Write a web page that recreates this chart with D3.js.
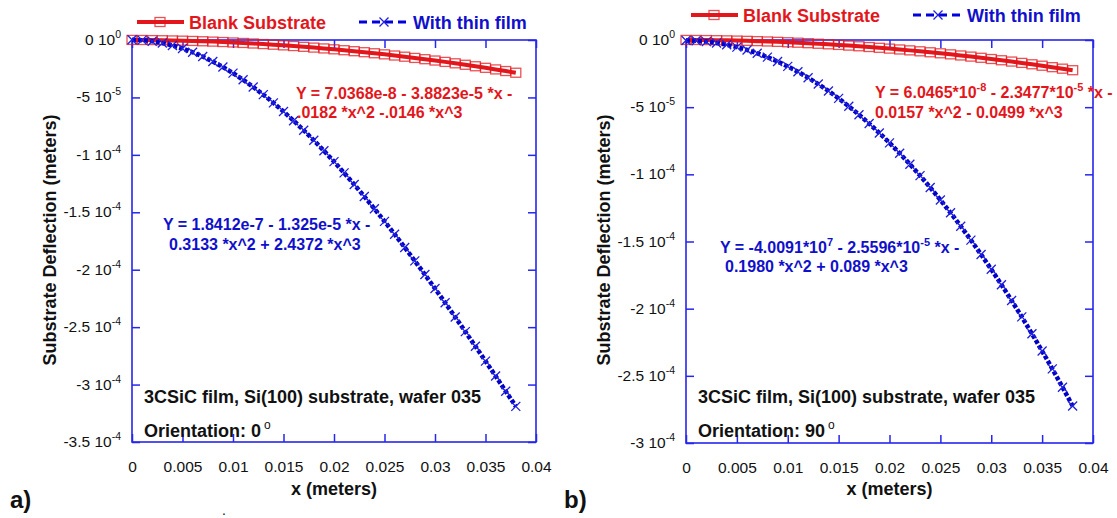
<!DOCTYPE html>
<meta charset="utf-8">
<head>
<title>Substrate deflection</title>
<style>
  body { margin: 0; background: #fff; }
  text { font-family: Arial, "Liberation Sans", sans-serif; }
</style>
</head>
<body>
<svg width="1117" height="518"></svg>
<script src="https://d3js.org/d3.v7.min.js"></script>
<script>
// x positions of the measured points (meters)
var xPos = [0, 0.001, 0.002, 0.003, 0.004, 0.005, 0.006, 0.007, 0.008, 0.009,
  0.010, 0.011, 0.012, 0.013, 0.014, 0.015, 0.016, 0.017, 0.018, 0.019,
  0.020, 0.021, 0.022, 0.023, 0.024, 0.025, 0.026, 0.027, 0.028, 0.029,
  0.030, 0.031, 0.032, 0.033, 0.034, 0.035, 0.036, 0.037, 0.038];

// deflections in micrometres
// panel a) orientation 0 deg
var blankA = [0.07, 0.01, -0.08, -0.21, -0.38, -0.58, -0.82, -1.10, -1.41, -1.76,
  -2.15, -2.58, -3.04, -3.54, -4.08, -4.66, -5.27, -5.92, -6.61, -7.34,
  -8.10, -8.91, -9.75, -10.63, -11.55, -12.50, -13.50, -14.53, -15.61, -16.72,
  -17.87, -19.06, -20.29, -21.56, -22.86, -24.21, -25.60, -27.02, -28.49];
var filmA = [0.18, -0.14, -1.08, -2.61, -4.73, -7.41, -10.65, -14.42, -18.73, -23.54,
  -28.84, -34.63, -40.88, -47.58, -54.72, -62.28, -70.25, -78.61, -87.35, -96.45,
  -105.9, -115.7, -125.8, -136.2, -146.9, -157.9, -169.1, -180.6, -192.3, -204.2,
  -216.4, -228.7, -241.2, -253.9, -266.7, -279.6, -292.6, -305.8, -319.0];
// panel b) orientation 90 deg
var blankB = [0.06, 0.02, -0.05, -0.15, -0.27, -0.43, -0.62, -0.84, -1.09, -1.37,
  -1.68, -2.01, -2.38, -2.78, -3.21, -3.67, -4.16, -4.67, -5.22, -5.80,
  -6.41, -7.05, -7.72, -8.42, -9.14, -9.90, -10.69, -11.51, -12.36, -13.24,
  -14.15, -15.08, -16.05, -17.05, -18.08, -19.14, -20.23, -21.34, -22.49];
var filmB = [-0.40, -0.61, -1.20, -2.18, -3.54, -5.28, -7.40, -9.89, -12.77, -16.02,
  -19.65, -23.66, -28.05, -32.81, -37.94, -43.45, -49.33, -55.59, -62.22, -69.23,
  -76.60, -84.35, -92.47, -100.96, -109.82, -119.05, -128.64, -138.61, -148.95, -159.65,
  -170.72, -182.15, -193.96, -206.12, -218.66, -231.55, -244.81, -258.44, -272.43];

var xTicks = [0, 0.005, 0.01, 0.015, 0.02, 0.025, 0.03, 0.035, 0.04];
var xTickLabels = ["0", "0.005", "0.01", "0.015", "0.02", "0.025", "0.03", "0.035", "0.04"];

var yTicksA = [0, -5e-5, -1e-4, -1.5e-4, -2e-4, -2.5e-4, -3e-4, -3.5e-4];
var yMantA = ["0", "-5", "-1", "-1.5", "-2", "-2.5", "-3", "-3.5"];
var yExpA = ["0", "-5", "-4", "-4", "-4", "-4", "-4", "-4"];
var yTicksB = [0, -5e-5, -1e-4, -1.5e-4, -2e-4, -2.5e-4, -3e-4];
var yMantB = ["0", "-5", "-1", "-1.5", "-2", "-2.5", "-3"];
var yExpB = ["0", "-5", "-4", "-4", "-4", "-4", "-4"];

var RED = "#e3161b", BLUE = "#1010cc", FRAME = "#2626ee";

var svg = d3.select("svg");

// append text pieces, some as superscripts
function rich(t, parts, supSize) {
  var up = false;
  parts.forEach(function (p) {
    var s = t.append("tspan").text(p[0]);
    if (p[1]) { s.attr("font-size", supSize).attr("dy", -7); up = true; }
    else if (up) { s.attr("dy", 7); up = false; }
  });
  return t;
}

function squareMark(g, cx, cy) {
  g.append("rect").attr("x", cx - 5).attr("y", cy - 4.5).attr("width", 10).attr("height", 9)
    .attr("fill", "none").attr("stroke", RED).attr("stroke-opacity", 0.75).attr("stroke-width", 1.3);
}
function crossMark(g, cx, cy) {
  g.append("path").attr("d", "M" + (cx - 4.5) + "," + (cy - 4.5) + "L" + (cx + 4.5) + "," + (cy + 4.5)
      + "M" + (cx - 4.5) + "," + (cy + 4.5) + "L" + (cx + 4.5) + "," + (cy - 4.5))
    .attr("stroke", "#2020dd").attr("stroke-width", 1.3).attr("fill", "none");
}

function drawPanel(p) {
  var x = d3.scaleLinear().domain([0, 0.04]).range([p.left, p.right]);
  var y = d3.scaleLinear().domain([p.yMin, 0]).range([p.bottom, p.top]);
  var g = svg.append("g");

  var ax = g.append("g").attr("transform", "translate(0," + p.bottom + ")")
    .call(d3.axisBottom(x).tickValues(xTicks).tickFormat(function (d, i) { return xTickLabels[i]; })
      .tickSizeInner(-8).tickSizeOuter(0).tickPadding(19));
  g.append("g").attr("transform", "translate(0," + p.top + ")")
    .call(d3.axisTop(x).tickValues(xTicks).tickFormat("").tickSizeInner(-8).tickSizeOuter(0));
  g.append("g").attr("transform", "translate(" + p.left + ",0)")
    .call(d3.axisLeft(y).tickValues(p.yTicks).tickFormat("").tickSizeInner(-8).tickSizeOuter(0));
  g.append("g").attr("transform", "translate(" + p.right + ",0)")
    .call(d3.axisRight(y).tickValues(p.yTicks).tickFormat("").tickSizeInner(-8).tickSizeOuter(0));
  g.selectAll(".domain").remove();
  g.selectAll(".tick line").attr("stroke", FRAME).attr("stroke-width", 1.5);
  ax.attr("font-size", 15.5).attr("font-family", "Arial, 'Liberation Sans', sans-serif");
  ax.selectAll("text").attr("fill", "#111");

  g.append("rect").attr("x", p.left).attr("y", p.top)
    .attr("width", p.right - p.left).attr("height", p.bottom - p.top)
    .attr("fill", "none").attr("stroke", FRAME).attr("stroke-width", 1.6);

  // y tick labels like "-1.5 10^-4"
  p.yTicks.forEach(function (v, i) {
    var t = g.append("text").attr("x", p.left - 11).attr("y", y(v) + 5)
      .attr("text-anchor", "end").attr("font-size", 15.5).attr("fill", "#111");
    rich(t, [[p.yMant[i] + " 10", false], [p.yExp[i], true]], 10.5);
  });

  // blank substrate
  var line = d3.line().x(function (d, i) { return x(xPos[i]); }).y(function (d) { return y(d * 1e-6); });
  g.append("path").datum(p.blank).attr("d", line)
    .attr("fill", "none").attr("stroke", RED).attr("stroke-width", 4);
  p.blank.forEach(function (d, i) { squareMark(g, x(xPos[i]), y(d * 1e-6)); });

  // with thin film
  g.append("path").datum(p.film).attr("d", line)
    .attr("fill", "none").attr("stroke", "#0000c8").attr("stroke-width", 4.5).attr("stroke-dasharray", "4,2");
  p.film.forEach(function (d, i) { crossMark(g, x(xPos[i]), y(d * 1e-6)); });

  // legend
  var ly = p.legendY;
  g.append("line").attr("x1", p.left + 5).attr("x2", p.left + 52).attr("y1", ly).attr("y2", ly)
    .attr("stroke", RED).attr("stroke-width", 4);
  squareMark(g, p.left + 28, ly);
  g.append("text").attr("x", p.left + 57).attr("y", ly + 6.5).attr("font-size", 18)
    .attr("font-weight", "bold").attr("fill", RED).text("Blank Substrate");
  g.append("line").attr("x1", p.left + 227).attr("x2", p.left + 277).attr("y1", ly).attr("y2", ly)
    .attr("stroke", "#0000dd").attr("stroke-width", 3).attr("stroke-dasharray", "8,5");
  crossMark(g, p.left + 252, ly);
  g.append("text").attr("x", p.left + 281).attr("y", ly + 6.5).attr("font-size", 18)
    .attr("font-weight", "bold").attr("fill", BLUE).text("With thin film");

  // fitted equations
  p.eqs.forEach(function (e) {
    var t = g.append("text").attr("x", e.x).attr("y", e.y).attr("font-size", 16)
      .attr("font-weight", "bold").attr("fill", e.color);
    rich(t, e.parts, 11);
  });

  // sample notes
  g.append("text").attr("x", p.left + 12).attr("y", 403).attr("font-size", 18)
    .attr("font-weight", "bold").attr("fill", "#111").text("3CSiC film, Si(100) substrate, wafer 035");
  var o = g.append("text").attr("x", p.left + 12).attr("y", 437).attr("font-size", 18)
    .attr("font-weight", "bold").attr("fill", "#111");
  o.append("tspan").text("Orientation: " + p.angle);
  o.append("tspan").attr("dx", 3).attr("dy", -8).attr("font-size", 12).attr("font-weight", "normal").text("o");

  // axis titles
  g.append("text").attr("x", (p.left + p.right) / 2).attr("y", 495).attr("text-anchor", "middle")
    .attr("font-size", 18).attr("font-weight", "bold").attr("fill", "#111").text("x (meters)");
  g.append("text").attr("transform", "translate(" + (p.left - 76) + "," + 240 + ") rotate(-90)")
    .attr("text-anchor", "middle").attr("font-size", 18).attr("font-weight", "bold").attr("fill", "#111")
    .text("Substrate Deflection (meters)");

  g.append("text").attr("x", p.left - 122).attr("y", 508).attr("font-size", 24)
    .attr("font-weight", "bold").attr("fill", "#111").text(p.tag);
}

drawPanel({
  left: 132, right: 536, top: 40, bottom: 442, yMin: -3.5e-4,
  yTicks: yTicksA, yMant: yMantA, yExp: yExpA,
  blank: blankA, film: filmA, legendY: 22, angle: "0", tag: "a)",
  eqs: [
    { x: 296, y: 99, color: RED, parts: [["Y = 7.0368e-8 - 3.8823e-5 *x -", false]] },
    { x: 297, y: 118, color: RED, parts: [[".0182 *x^2 -.0146 *x^3", false]] },
    { x: 163, y: 230, color: BLUE, parts: [["Y = 1.8412e-7 - 1.325e-5 *x -", false]] },
    { x: 169, y: 250, color: BLUE, parts: [["0.3133 *x^2 + 2.4372 *x^3", false]] }
  ]
});

drawPanel({
  left: 686, right: 1093, top: 40, bottom: 443, yMin: -3e-4,
  yTicks: yTicksB, yMant: yMantB, yExp: yExpB,
  blank: blankB, film: filmB, legendY: 15, angle: "90", tag: "b)",
  eqs: [
    { x: 875, y: 98, color: RED, parts: [["Y = 6.0465*10", false], ["-8", true], [" - 2.3477*10", false], ["-5", true], [" *x -", false]] },
    { x: 875, y: 118, color: RED, parts: [["0.0157 *x^2 - 0.0499 *x^3", false]] },
    { x: 720, y: 253, color: BLUE, parts: [["Y = -4.0091*10", false], ["7", true], [" - 2.5596*10", false], ["-5", true], [" *x -", false]] },
    { x: 725, y: 272, color: BLUE, parts: [["0.1980 *x^2 + 0.089 *x^3", false]] }
  ]
});

// stray dot below panel a)
svg.append("text").attr("x", 222).attr("y", 515).attr("font-size", 14).attr("fill", "#111").text(".");
</script>
</body>
